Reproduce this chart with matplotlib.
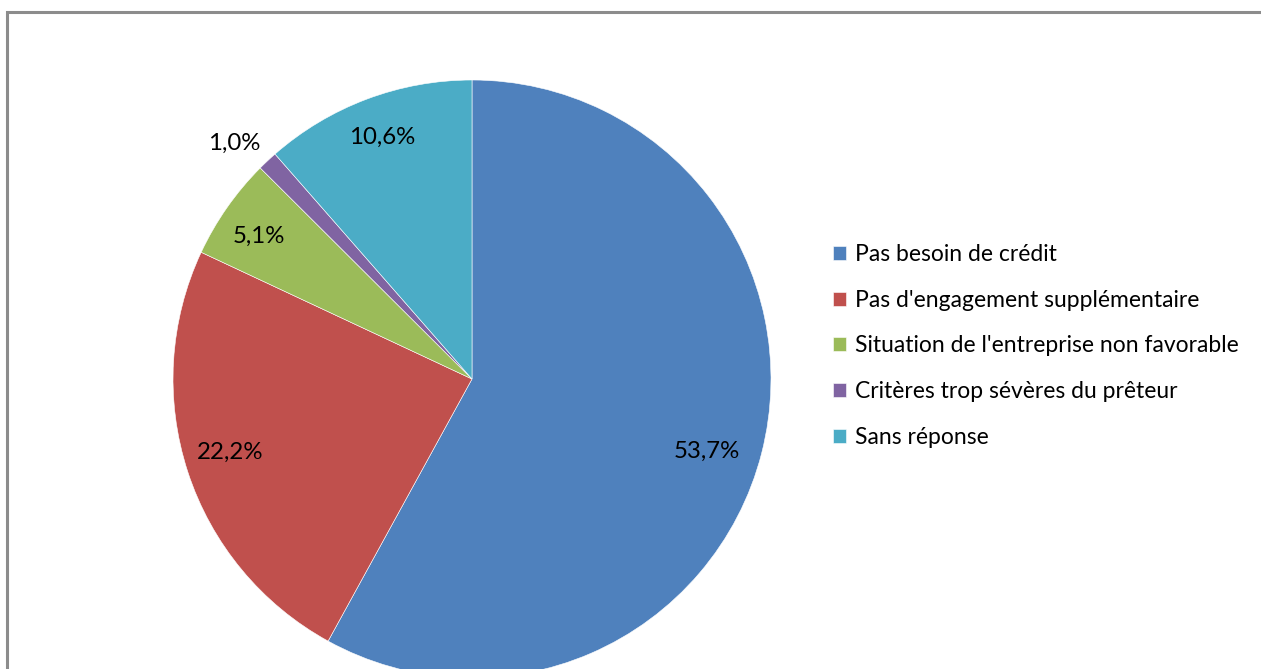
import matplotlib
matplotlib.use("Agg")
import matplotlib.pyplot as plt
import numpy as np

categories = ["Pas besoin de crédit", "Pas d'engagement supplémentaire",
              "Situation de l'entreprise non favorable",
              "Critères trop sévères du prêteur", "Sans réponse"]
values = [53.7, 22.2, 5.1, 1.0, 10.6]
colors = ["#4F81BD", "#C0504D", "#9BBB59", "#8064A2", "#4BACC6"]
label_radius = [0.82, 0.845, 0.857, 1.12, 0.862]
label_angle_shift = [-2.7, -1.2, 1.1, 2.1, -0.2]

plt.rcParams['font.family'] = ['Lato', 'DejaVu Sans']
W, H = 1261, 669
fig = plt.figure(figsize=(W / 100, H / 100), dpi=100)
ax = fig.add_axes([0, 0, 1, 1])
cx, cy, R = 472, H - 379, 299

wedges, _ = ax.pie(values, colors=colors, startangle=90, counterclock=False,
                   radius=R, center=(cx, cy),
                   wedgeprops=dict(edgecolor='white', linewidth=0.4))
ax.set_xlim(0, W)
ax.set_ylim(0, H)
ax.set_aspect('equal')
ax.axis('off')

for w, v, rf, da in zip(wedges, values, label_radius, label_angle_shift):
    ang = np.deg2rad((w.theta1 + w.theta2) / 2 + da)
    x = cx + rf * R * np.cos(ang)
    y = cy + rf * R * np.sin(ang)
    ax.text(x, y, f"{v:.1f}%".replace('.', ','), ha='center', va='center',
            fontsize=17.3, color='black')

# chart frame (left and top edges)
ax.plot([7, 7, W], [0, H - 12, H - 12], color='#8c8c8c', lw=2.2,
        solid_joinstyle='miter', clip_on=False)

leg = ax.legend(wedges, categories, loc='upper left',
                bbox_to_anchor=(833, H - 244), bbox_transform=ax.transData,
                frameon=False, fontsize=16.5, handlelength=0.55, handleheight=0.55,
                handletextpad=0.4, labelspacing=1.08, borderpad=0, borderaxespad=0)

fig.savefig("out.png", dpi=100)
